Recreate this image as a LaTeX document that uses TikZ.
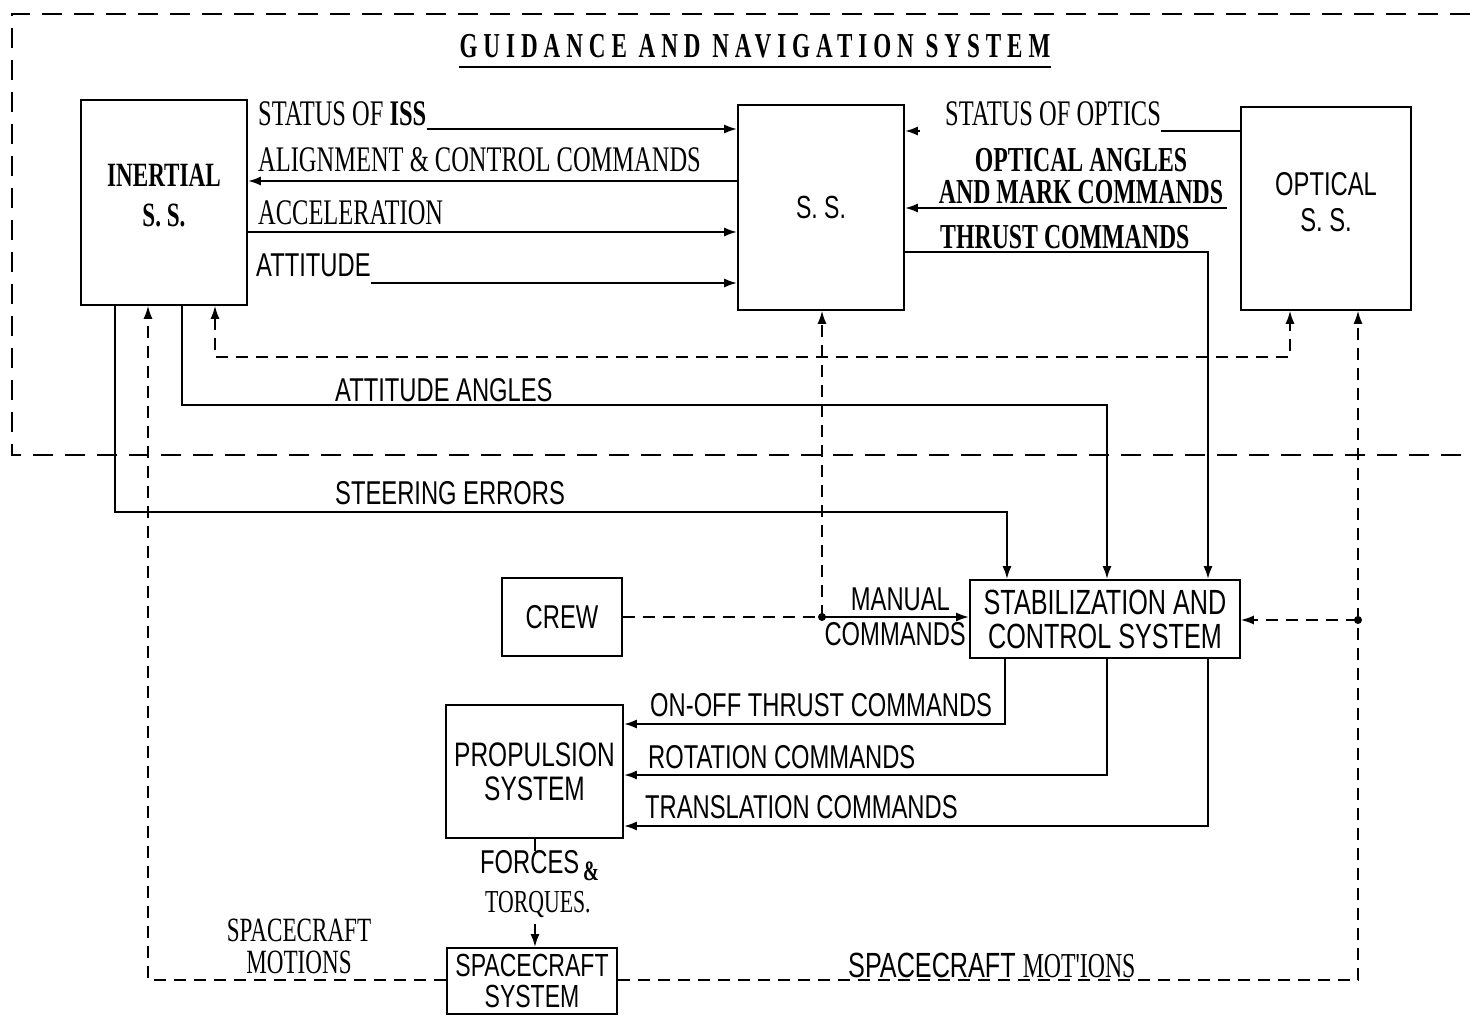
\documentclass[tikz,border=0pt]{standalone}
\usepackage{fontspec}
\setmainfont{Liberation Serif}
\newfontfamily\serifc[FakeStretch=0.68]{Liberation Serif}
\newfontfamily\sansc[FakeStretch=0.72]{Liberation Sans}
\newfontfamily\titlef[FakeStretch=0.66,LetterSpace=17]{Liberation Serif}
\usetikzlibrary{arrows.meta}
\begin{document}
\begin{tikzpicture}[x=1pt,y=-1pt,
  box/.style={draw,line width=1.6pt,inner sep=0pt,align=center},
  sl/.style={font=\sansc\fontsize{33}{35}\selectfont, inner sep=0pt, align=center},
  rl/.style={font=\serifc\fontsize{36}{36}\selectfont, inner sep=0pt, align=center},
  bl/.style={font=\serifc\bfseries\fontsize{35}{32}\selectfont, inner sep=0pt, align=center},
  conn/.style={line width=2.3pt},
  arr/.style={conn,-{Latex[length=13pt,width=9pt]}},
  dsh/.style={line width=1.6pt, dash pattern=on 12pt off 8pt},
  darr/.style={dsh,-{Latex[length=13pt,width=9pt]}},
]
\useasboundingbox (0,0) rectangle (1470,1016);
\fill[white] (0,0) rectangle (1470,1016);

% outer G&N frame
\draw[line width=1.6pt, dash pattern=on 20pt off 12pt] (1470,14) -- (12,14) -- (12,455) -- (1470,455);

% title
\node[font=\titlef\bfseries\fontsize{35}{36}\selectfont, inner sep=0pt] (title) at (755,46) {GUIDANCE AND NAVIGATION SYSTEM};
\draw[line width=1.8pt] (title.south west |- 0,67) -- (title.south east |- 0,67);

% boxes
\node[box, minimum width=166, minimum height=205, font=\serifc\bfseries\fontsize{34}{40}\selectfont] (iss) at (164,202.5) {INERTIAL\\S. S.\\[-26pt]};
\node[box, minimum width=166, minimum height=205, font=\sansc\fontsize{32}{36}\selectfont] (ss) at (821,207.5) {\raisebox{-8pt}{S. S.}};
\node[box, minimum width=170, minimum height=203, font=\sansc\fontsize{33}{36}\selectfont] (opt) at (1326,208.5) {OPTICAL\\S. S.\\[-22pt]};
\node[box, minimum width=120, minimum height=78, font=\sansc\fontsize{33}{36}\selectfont] (crew) at (562,617) {CREW};
\node[box, minimum width=270, minimum height=78, font=\sansc\fontsize{35}{34}\selectfont] (scs) at (1105,619) {STABILIZATION AND\\CONTROL SYSTEM};
\node[box, minimum width=177, minimum height=133, font=\sansc\fontsize{34}{34}\selectfont] (prop) at (534.5,771.5) {PROPULSION\\SYSTEM};
\node[box, minimum width=170, minimum height=66, font=\sansc\fontsize{32}{31}\selectfont] (scft) at (532,981) {SPACECRAFT\\SYSTEM};

% labels
\node[rl, anchor=west] (lISS) at (258,114) {STATUS OF \textbf{ISS}};
\node[rl, anchor=west] (lALN) at (258,160) {ALIGNMENT \& CONTROL COMMANDS};
\node[rl, anchor=west] (lACC) at (258,213) {ACCELERATION};
\node[sl, anchor=west] (lATT) at (256,265) {ATTITUDE};
\node[rl, anchor=west] (lOPS) at (945,114) {STATUS OF OPTICS};
\node[bl] (lOA) at (1081,176) {OPTICAL ANGLES\\AND MARK COMMANDS};
\node[bl, anchor=west] (lTHR) at (940,237) {THRUST COMMANDS};
\node[sl, anchor=west] (lAA) at (335,390) {ATTITUDE ANGLES};
\node[sl, anchor=west] (lSE) at (335,493) {STEERING ERRORS};
\node[sl, anchor=east, align=right] (lMC) at (966,617) {MANUAL\phantom{S}\\COMMANDS};
\node[sl, anchor=west] (lOO) at (650,705) {ON-OFF THRUST COMMANDS};
\node[sl, anchor=west] (lROT) at (648,757) {ROTATION COMMANDS};
\node[sl, anchor=west] (lTR) at (645,807) {TRANSLATION COMMANDS};
\node[sl, anchor=west] (lFO) at (480,862) {FORCES};
\node[font=\serifc\bfseries\fontsize{28}{28}\selectfont, inner sep=0pt, anchor=west] (lAMP) at (583,871) {\&};
\node[font=\serifc\fontsize{32}{32}\selectfont, inner sep=0pt, anchor=west] (lTQ) at (485,904) {TORQUES.};
\node[font=\serifc\fontsize{34}{34}\selectfont, inner sep=0pt] (lSMa) at (299,930) {SPACECRAFT};
\node[font=\serifc\fontsize{34}{34}\selectfont, inner sep=0pt] (lSMb) at (299,962) {MOTIONS};
\node[sl, anchor=west, font=\sansc\fontsize{35}{35}\selectfont] (lSM2) at (848,965) {SPACECRAFT {\serifc MOT'IONS}};

% G&N internal connections
\draw[arr] (lISS.east |- 0,129) -- (ss.west |- 0,129);
\draw[arr] (ss.west |- 0,181) -- (iss.east |- 0,181);
\draw[arr] (iss.east |- 0,232) -- (ss.west |- 0,232);
\draw[arr] (lATT.east |- 0,283) -- (ss.west |- 0,283);
\draw[conn] (opt.west |- 0,131) -- (lOPS.east |- 0,131);
\coordinate (opsstub) at (920,131);
\draw[arr] (opsstub) -- (ss.east |- opsstub);
\draw[arr] ([xshift=-13pt]opt.west |- 0,208) -- (ss.east |- 0,208);
\draw[arr] (ss.east |- 0,252) -| (scs.north -| 1208,0);

% from inertial
\draw[arr] (iss.south -| 115,0) |- (1007,512) -- (scs.north -| 1007,0);
\draw[arr] (iss.south -| 182,0) |- (1107,405) -- (scs.north -| 1107,0);
\draw[dsh, {Latex[length=13pt,width=9pt]}-{Latex[length=13pt,width=9pt]}] (iss.south -| 215,0) |- (1290,357) -- (opt.south -| 1290,0);

% crew / manual commands
\coordinate (j1) at (822,617);
\draw[dsh] (crew.east) -- (j1);
\fill (j1) circle (4);
\draw[arr] (j1) -- (scs.west |- j1);
\draw[darr] (j1) -- (ss.south -| j1);

% SCS outputs
\draw[arr] (scs.south -| 1005,0) |- (prop.east |- 0,724);
\draw[arr] (scs.south -| 1107,0) |- (prop.east |- 0,775);
\draw[arr] (scs.south -| 1208,0) |- (prop.east |- 0,826);

% forces & torques
\draw[line width=1.6pt] (prop.south -| 535,0) -- ++(0,12);
\coordinate (ft) at (535,924);
\draw[arr] (ft) -- (scft.north -| ft);

% spacecraft motions
\draw[darr] (scft.west |- 0,980) -| (iss.south -| 148,0);
\draw[darr] (scft.east |- 0,980) -| (opt.south -| 1358,0);
\coordinate (j2) at (1358,620);
\fill (j2) circle (4);
\draw[darr] (j2) -- (scs.east |- j2);
\end{tikzpicture}
\end{document}
